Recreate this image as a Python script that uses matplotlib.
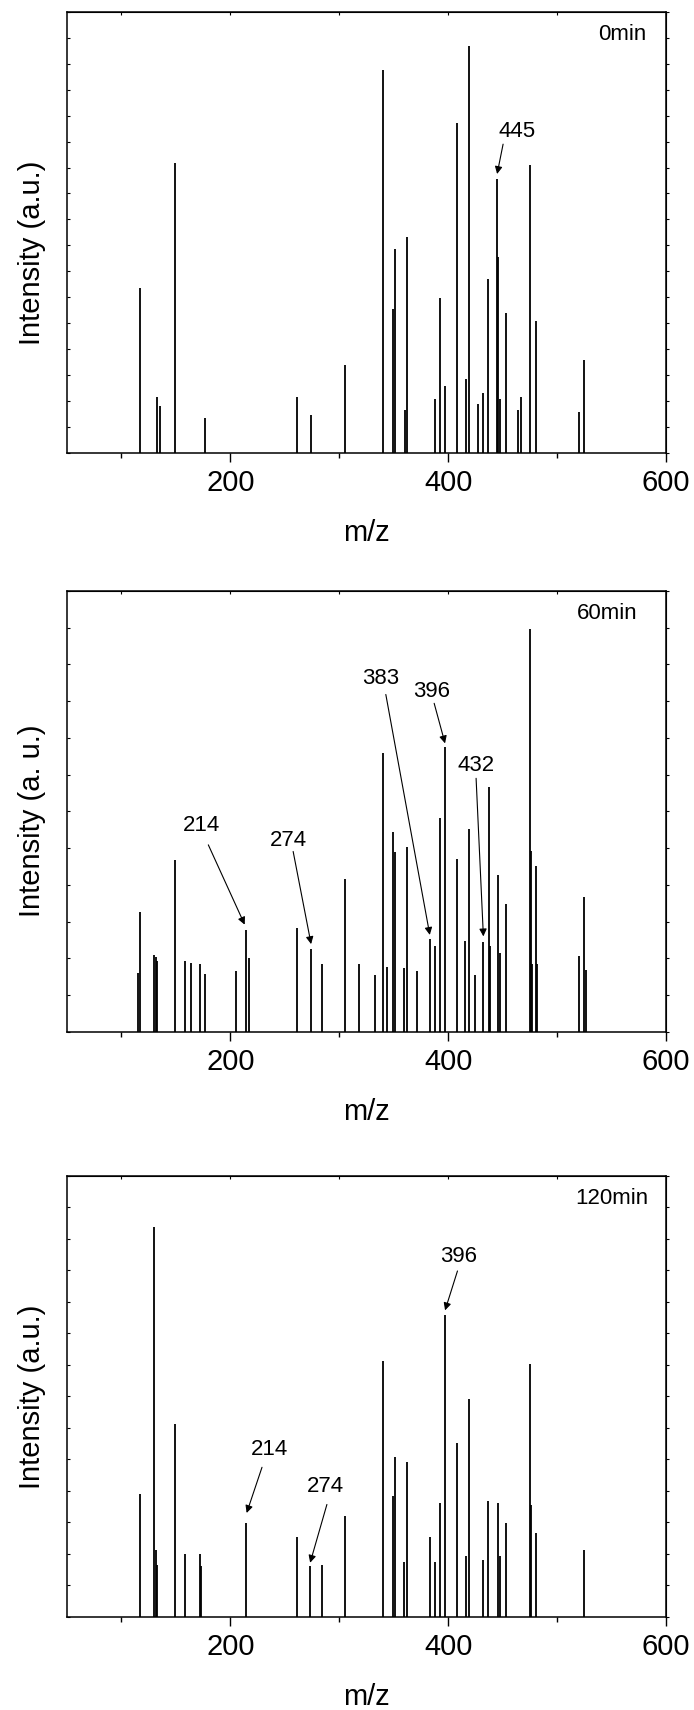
import matplotlib
matplotlib.use('Agg')
import matplotlib.pyplot as plt

plt.rcParams['font.family'] = ['Liberation Sans', 'DejaVu Sans']

# peak positions (m/z) and intensities
mz_0 = [117, 133, 135, 149, 177, 261, 274, 305, 340, 349, 351, 360, 362, 388, 393, 397,
        408, 416, 419, 427, 432, 437, 445, 446, 447.5, 453, 464, 467, 475.5, 481, 520.5, 525]
int_0 = [6.35, 2.16, 1.82, 11.17, 1.33, 2.14, 1.45, 3.4, 14.76, 5.56, 7.87, 1.64, 8.31, 2.09,
         5.98, 2.57, 12.73, 2.86, 15.69, 1.9, 2.31, 6.72, 10.57, 7.57, 2.09, 5.41, 1.67, 2.16,
         11.1, 5.1, 1.56, 3.59]

mz_60 = [115, 117, 130, 131.5, 133, 149, 158, 164, 172.5, 177, 205, 214, 217, 261, 274, 284,
         305, 318, 333, 340, 344, 349, 351, 359.5, 362, 371, 383, 388, 393, 397, 408, 415.5,
         419, 424.5, 432, 437.5, 438.5, 446, 447.5, 453, 475.5, 476.5, 477.5, 481, 482, 520,
         525, 526.5]
int_60 = [1.60, 3.25, 2.09, 2.04, 1.92, 4.68, 1.94, 1.87, 1.86, 1.58, 1.67, 2.78, 2.01, 2.83,
          2.26, 1.86, 4.17, 1.86, 1.56, 7.58, 1.78, 5.43, 4.89, 1.74, 5.02, 1.65, 2.54, 2.33,
          5.83, 7.76, 4.71, 2.48, 5.52, 1.54, 2.46, 6.66, 2.33, 4.26, 2.15, 3.48, 10.96, 4.91,
          1.86, 4.52, 1.86, 2.06, 3.67, 1.69]

mz_120 = [117, 130, 131.5, 133, 149, 158, 172, 173.5, 214, 261, 273, 284, 305, 340, 349, 351,
          359.5, 362, 383, 388, 393, 397, 408, 416, 419, 432, 437, 446, 447.5, 453, 475.5,
          476.5, 481, 525]
int_120 = [3.89, 12.38, 2.14, 1.66, 6.11, 2.01, 2.01, 1.61, 2.99, 2.53, 1.61, 1.64, 3.22, 8.11,
           3.83, 5.07, 1.74, 4.91, 2.54, 1.74, 3.62, 9.59, 5.51, 1.93, 6.93, 1.8, 3.67, 3.62,
           1.93, 2.97, 8.02, 3.55, 2.65, 2.14]

# annotations: label, text x, text y, arrow start x, y, arrow tip x, y
notes_0 = [('445', 463.3, 12.38, 450.5, 11.9, 445, 10.75)]
notes_60 = [('214', 173.3, 5.62, 179.8, 5.09, 213.2, 2.92),
            ('274', 253.4, 5.22, 257.7, 4.91, 274.2, 2.39),
            ('383', 338.2, 9.62, 342.8, 9.18, 383.2, 2.64),
            ('396', 385.3, 9.26, 387.2, 8.94, 397.2, 7.85),
            ('432', 425.4, 7.26, 425.7, 6.9, 432.4, 2.6)]
notes_120 = [('214', 235.6, 5.32, 229.1, 4.75, 215, 3.30),
             ('274', 287.7, 4.15, 288.7, 3.57, 273.3, 1.72),
             ('396', 409.2, 11.44, 408.6, 10.98, 397.2, 9.73)]

panels = [
    (mz_0, int_0, 17, '0min', 'Intensity (a.u.)', notes_0, 0.7351, 0.967, 0.453),
    (mz_60, int_60, 12, '60min', 'Intensity (a. u.)', notes_60, 0.3965, 0.953, 0.478),
    (mz_120, int_120, 14, '120min', 'Intensity (a.u.)', notes_120, 0.0544, 0.970, 0.50),
]

fig = plt.figure(figsize=(6.94, 17.10), dpi=100)

for mz, inten, ytop, tag, ylab, notes, bottom, tagx, ylaby in panels:
    ax = fig.add_axes([0.0965, bottom, 0.863, 0.258])
    ax.vlines(mz, 0, inten, colors='black', linewidth=1.3)
    ax.set_xlim(50, 600)
    ax.set_ylim(0, ytop)
    ax.set_xticks([200, 400, 600])
    ax.set_xticks([100, 300, 500], minor=True)
    ax.set_yticks(range(ytop + 1))
    ax.set_yticklabels([])
    ax.tick_params(axis='x', which='major', direction='out', length=6.5, width=1.0,
                   labelsize=21, pad=5)
    ax.tick_params(axis='x', which='minor', direction='out', length=3.5, width=1.0)
    ax.tick_params(axis='y', direction='in', length=1.8, width=0.8)
    for s in ax.spines.values():
        s.set_linewidth(1.1)

    top = ax.secondary_xaxis('top')
    top.set_xticks([100, 200, 300, 400, 500, 600])
    top.set_xticklabels([])
    top.tick_params(direction='in', length=1.8, width=0.8)
    right = ax.secondary_yaxis('right')
    right.set_yticks(range(ytop + 1))
    right.set_yticklabels([])
    right.tick_params(direction='out', length=1.8, width=0.8)

    ax.set_xlabel('m/z', fontsize=21, labelpad=16)
    ax.set_ylabel(ylab, fontsize=21)
    ax.yaxis.set_label_coords(-0.035, ylaby)

    ax.text(tagx, 0.948, tag, transform=ax.transAxes, fontsize=16, ha='right', va='center')

    for lab, tx, ty, sx, sy, ex, ey in notes:
        ax.text(tx, ty, lab, fontsize=16, ha='center', va='center')
        ax.annotate('', xy=(ex, ey), xytext=(sx, sy),
                    arrowprops=dict(arrowstyle='-|>', color='black', lw=0.8,
                                    mutation_scale=11, shrinkA=0, shrinkB=0))

fig.savefig('out.png', dpi=100)
